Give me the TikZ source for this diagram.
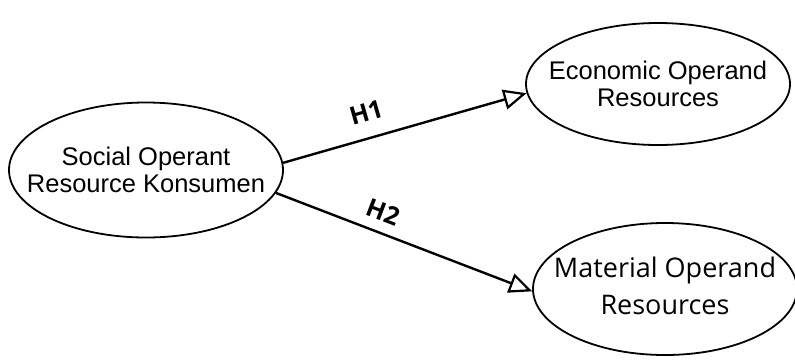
\documentclass[tikz,border=0pt]{standalone}
\usepackage{fontspec}
\setmainfont{Liberation Sans}
\newfontfamily\segoelike{Open Sans}
\usetikzlibrary{shapes.geometric,arrows.meta}
\begin{document}
\begin{tikzpicture}[x=1pt,y=-1pt,
  construct/.style={ellipse, draw, line width=1.8pt, inner sep=0pt},
  caption/.style={align=center, inner sep=0pt, font=\fontsize{25.5}{27.5}\selectfont},
  path/.style={line width=2.4pt, -{Triangle[open, length=23pt, width=20pt, line width=2.2pt]}},
  hyp/.style={font=\segoelike\bfseries\fontsize{25}{27}\selectfont}]
\useasboundingbox (0,0) rectangle (795,360);
% the three constructs
\node[construct, minimum width=274pt, minimum height=135pt] (soc) at (146,170) {};
\node[construct, minimum width=264pt, minimum height=122pt] (eco) at (658,84) {};
\node[construct, minimum width=264pt, minimum height=132pt] (mat) at (665,289) {};
\node[caption] (soctext) at (soc) {Social Operant\\Resource Konsumen};
\node[caption] (ecotext) at (eco) {Economic Operand\\Resources};
\node[caption, font=\segoelike\fontsize{27}{37}\selectfont] (mattext) at ([yshift=3pt]mat.center)
  {Material Operand\\Resources};
% hypothesised paths
\draw[path] (soc.3) -- (eco.184) node[hyp, pos=0.37, above, sloped, yshift=12pt] {H1};
\draw[path] (soc.-10) -- (mat.181) node[hyp, pos=0.39, above, sloped, yshift=7pt] {H2};
\end{tikzpicture}
\end{document}
